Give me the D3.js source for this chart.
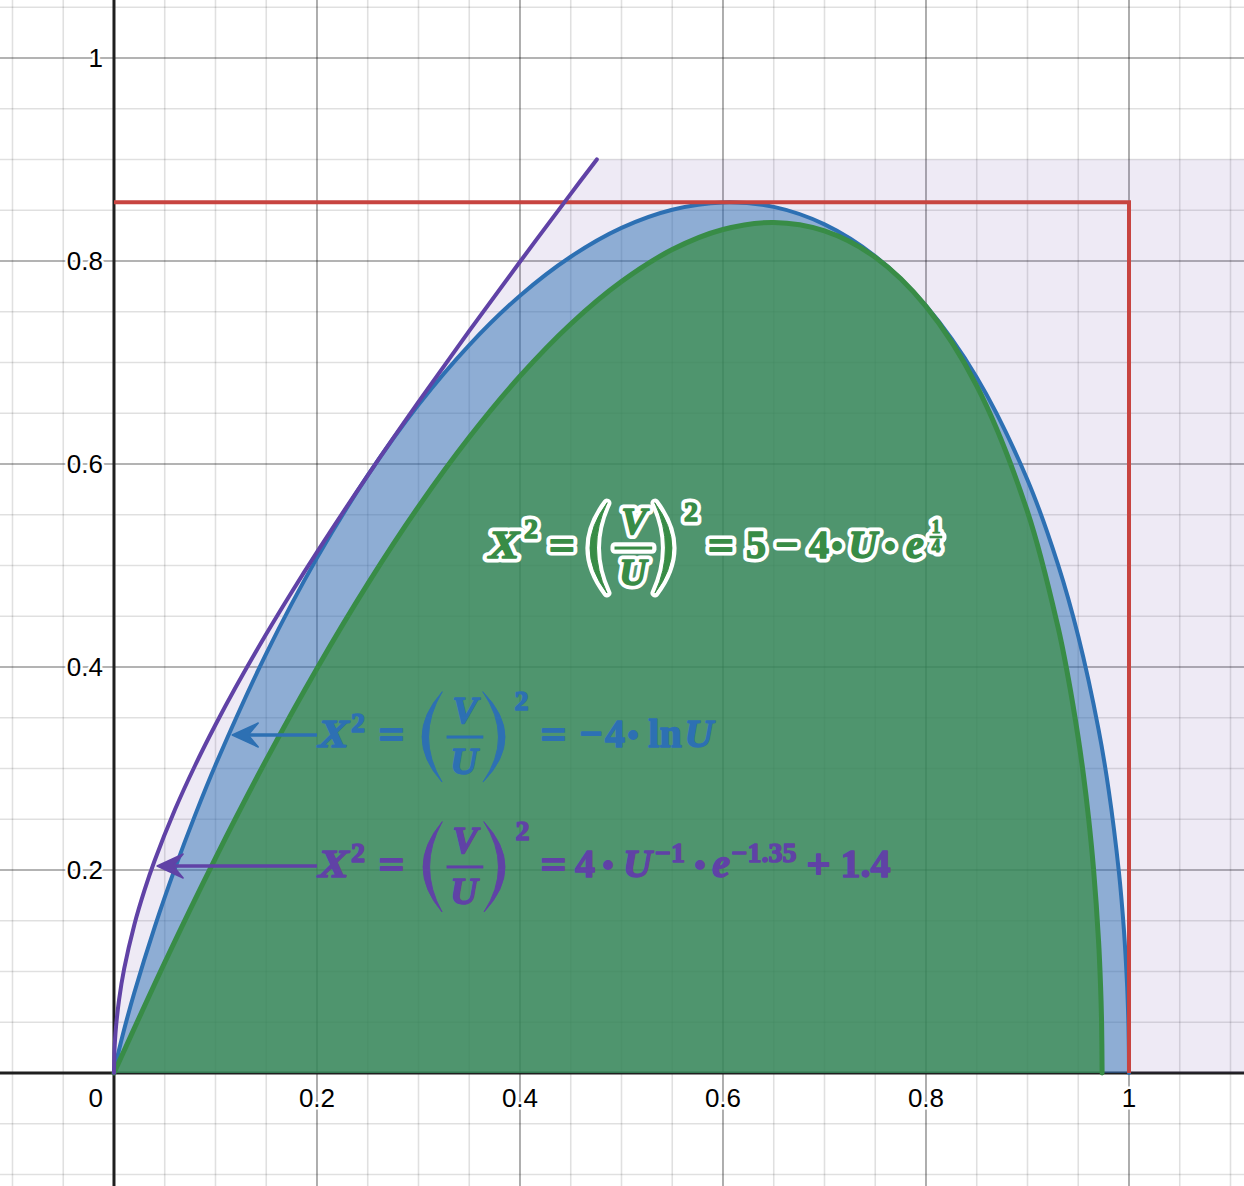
<!DOCTYPE html>
<html>
<head>
<meta charset="utf-8">
<script src="https://cdn.jsdelivr.net/npm/d3@7"></script>
<style>
  html, body { margin: 0; padding: 0; background: #ffffff; }
  svg { display: block; }
</style>
</head>
<body>
<svg id="chart" width="1244" height="1186"></svg>
<script>
// ---------------- DATA ----------------
const xTickValues = [0.2, 0.4, 0.6, 0.8, 1];
const xTickLabels = ["0.2", "0.4", "0.6", "0.8", "1"];
const yTickValues = [0.2, 0.4, 0.6, 0.8, 1];
const yTickLabels = ["0.2", "0.4", "0.6", "0.8", "1"];
const originLabel = "0";

// blue boundary  X^2 = (V/U)^2 = -4 ln U   (points [U, V])
const blueCurve = [
  [0, 0], [0.001, 0.0053], [0.002, 0.0100], [0.005, 0.0230], [0.01, 0.0429],
  [0.02, 0.0791], [0.04, 0.1435], [0.06, 0.2013], [0.08, 0.2543], [0.1, 0.3035],
  [0.15, 0.4132], [0.2, 0.5075], [0.25, 0.5887], [0.3, 0.6584], [0.35, 0.7172],
  [0.4, 0.7658], [0.45, 0.8042], [0.5, 0.8326], [0.55, 0.8505], [0.6, 0.8577],
  [0.65, 0.8533], [0.7, 0.8361], [0.75, 0.8046], [0.8, 0.7558], [0.85, 0.6853],
  [0.9, 0.5843], [0.93, 0.5011], [0.95, 0.4303], [0.97, 0.3386], [0.98, 0.2786],
  [0.99, 0.1985], [0.995, 0.1409], [0.998, 0.0893], [0.999, 0.0632],
  [0.9995, 0.0447], [0.9999, 0.0200], [1, 0]
];

// green boundary  X^2 = (V/U)^2 = 5 - 4 U e^(1/4)
const greenCurve = [
  [0, 0], [0.05, 0.1089], [0.1, 0.2118], [0.15, 0.3085], [0.2, 0.3986],
  [0.25, 0.4819], [0.3, 0.5580], [0.35, 0.6263], [0.4, 0.6865], [0.45, 0.7379],
  [0.5, 0.7797], [0.55, 0.8112], [0.6, 0.8310], [0.65, 0.8379], [0.7, 0.8296],
  [0.75, 0.8036], [0.8, 0.7552], [0.85, 0.6770], [0.9, 0.5530], [0.93, 0.4396],
  [0.94, 0.3899], [0.95, 0.3300], [0.955, 0.2944], [0.96, 0.2528], [0.965, 0.2016],
  [0.97, 0.1301], [0.972, 0.0853], [0.973, 0.0493], [0.9735, 0]
];

// purple boundary  X^2 = (V/U)^2 = 4 U^-1 e^-1.35 + 1.4   (drawn up to V = 0.9)
const purpleCurve = [
  [0, 0], [0.0005, 0.0228], [0.001, 0.0322], [0.002, 0.0456], [0.005, 0.0722],
  [0.01, 0.1025], [0.02, 0.1459], [0.03, 0.1799], [0.04, 0.2091], [0.06, 0.2593],
  [0.08, 0.3032], [0.1, 0.3431], [0.12, 0.3803], [0.15, 0.4325], [0.175, 0.4737],
  [0.2, 0.5132], [0.25, 0.5888], [0.3, 0.6611], [0.35, 0.7311], [0.4, 0.7992],
  [0.45, 0.8661], [0.4757, 0.9]
];
const purpleCap = 0.9;

// red bounding box  0 <= U <= 1, 0 <= V <= sqrt(2/e)
const redBox = [[0, 0.8578], [1, 0.8578], [1, 0]];

// ---------------- SETUP ----------------
const W = 1244, H = 1186;
const X_DOMAIN = [-0.1123, 1.1133];
const Y_DOMAIN = [-0.1113, 1.0571];
const x = d3.scaleLinear().domain(X_DOMAIN).range([0, W]);
const y = d3.scaleLinear().domain(Y_DOMAIN).range([H, 0]);

const COLORS = {
  red: "#c74440", blue: "#2d70b3", green: "#388c46", purple: "#6042a6", axis: "#1f1f1f"
};

const svg = d3.select("#chart");

// ---------------- GRID ----------------
const grid = svg.append("g");
const minorStep = 0.05;
const xGrid = d3.range(Math.ceil(X_DOMAIN[0] / minorStep), Math.floor(X_DOMAIN[1] / minorStep) + 1);
const yGrid = d3.range(Math.ceil(Y_DOMAIN[0] / minorStep), Math.floor(Y_DOMAIN[1] / minorStep) + 1);

grid.selectAll("line.vx").data(xGrid).join("line")
  .attr("x1", i => x(i * minorStep)).attr("x2", i => x(i * minorStep))
  .attr("y1", 0).attr("y2", H)
  .attr("stroke", i => (i % 4 === 0) ? "rgba(0,0,0,0.40)" : "rgba(0,0,0,0.12)")
  .attr("stroke-width", 1.6);
grid.selectAll("line.hy").data(yGrid).join("line")
  .attr("y1", i => y(i * minorStep)).attr("y2", i => y(i * minorStep))
  .attr("x1", 0).attr("x2", W)
  .attr("stroke", i => (i % 4 === 0) ? "rgba(0,0,0,0.40)" : "rgba(0,0,0,0.12)")
  .attr("stroke-width", 1.6);

// ---------------- AXES ----------------
svg.append("line").attr("x1", 0).attr("x2", W).attr("y1", y(0)).attr("y2", y(0))
  .attr("stroke", COLORS.axis).attr("stroke-width", 3);
svg.append("line").attr("y1", 0).attr("y2", H).attr("x1", x(0)).attr("x2", x(0))
  .attr("stroke", COLORS.axis).attr("stroke-width", 3);

// ---------------- FILLS ----------------
const smooth = d3.curveCatmullRom.alpha(0.5);

// lavender region right of the purple curve, 0 <= V <= 0.9
svg.append("path")
  .attr("d", d3.area().curve(smooth)
    .y(d => y(d[1])).x0(d => x(d[0])).x1(x(X_DOMAIN[1]))(purpleCurve))
  .attr("fill", COLORS.purple).attr("fill-opacity", 0.11);

svg.append("path")
  .attr("d", d3.area().curve(smooth).x(d => x(d[0])).y0(y(0)).y1(d => y(d[1]))(blueCurve))
  .attr("fill", COLORS.blue).attr("fill-opacity", 0.5);

svg.append("path")
  .attr("d", d3.area().curve(smooth).x(d => x(d[0])).y0(y(0)).y1(d => y(d[1]))(greenCurve))
  .attr("fill", COLORS.green).attr("fill-opacity", 0.72);

// ---------------- CURVES ----------------
const line = d3.line().curve(smooth).x(d => x(d[0])).y(d => y(d[1]));

svg.append("path").attr("d", line(blueCurve)).attr("fill", "none")
  .attr("stroke", COLORS.blue).attr("stroke-width", 4).attr("stroke-linecap", "round").attr("stroke-linejoin", "round");
svg.append("path").attr("d", line(greenCurve)).attr("fill", "none")
  .attr("stroke", COLORS.green).attr("stroke-width", 5).attr("stroke-linecap", "round").attr("stroke-linejoin", "round");
svg.append("path").attr("d", d3.line().x(d => x(d[0])).y(d => y(d[1]))(redBox)).attr("fill", "none")
  .attr("stroke", COLORS.red).attr("stroke-width", 4).attr("stroke-linejoin", "miter");
svg.append("path").attr("d", line(purpleCurve)).attr("fill", "none")
  .attr("stroke", COLORS.purple).attr("stroke-width", 4).attr("stroke-linecap", "round").attr("stroke-linejoin", "round");

// ---------------- TICK LABELS ----------------
const labels = svg.append("g")
  .attr("font-family", "'Liberation Sans', Arial, Helvetica, sans-serif")
  .attr("font-size", 26).attr("fill", "#000")
  .attr("stroke", "#fff").attr("stroke-width", 5).attr("stroke-linejoin", "round")
  .attr("paint-order", "stroke");

labels.selectAll("text.xl").data(xTickValues).join("text")
  .attr("x", d => x(d)).attr("y", y(0) + 34).attr("text-anchor", "middle")
  .text((d, i) => xTickLabels[i]);
labels.selectAll("text.yl").data(yTickValues).join("text")
  .attr("x", x(0) - 11).attr("y", d => y(d) + 9).attr("text-anchor", "end")
  .text((d, i) => yTickLabels[i]);
labels.append("text").attr("x", x(0) - 11).attr("y", y(0) + 34).attr("text-anchor", "end").text(originLabel);

// ---------------- ARROWS ----------------
function arrow(from, to, color) {
  const g = svg.append("g");
  const x1 = x(from[0]), y1 = y(from[1]), x2 = x(to[0]), y2 = y(to[1]);
  g.append("line").attr("x1", x1).attr("y1", y1).attr("x2", x2 + 12).attr("y2", y2)
    .attr("stroke", color).attr("stroke-width", 3.5);
  g.append("path")
    .attr("d", `M${x2},${y2} L${x2 + 26},${y2 - 12} L${x2 + 16},${y2} L${x2 + 26},${y2 + 12} Z`)
    .attr("fill", color).attr("stroke", color).attr("stroke-width", 1.5).attr("stroke-linejoin", "round");
}
arrow([0.2, 0.333], [0.1165, 0.333], COLORS.blue);
arrow([0.2, 0.204], [0.0425, 0.204], COLORS.purple);

// ---------------- FORMULAS ----------------
function formula(anchor, color, halo, parts) {
  const root = svg.append("g").attr("transform", `translate(${x(anchor[0])},${y(anchor[1])})`);
  const layers = halo ? [root.append("g"), root.append("g")] : [null, root.append("g")];

  function draw(g, p, isHalo) {
    let el;
    if (p.paren) {
      const s = p.paren === "(" ? 1 : -1;
      const a = p.paren === "(" ? p.x0 : p.x1;   // bulge side
      const b = p.paren === "(" ? p.x1 : p.x0;   // tips side
      const cOut = 2 * a - b;
      const cIn = 2 * (a + s * 6.5) - b;
      el = g.append("path").attr("d", `M${b},${-p.h} Q${cOut},0 ${b},${p.h} Q${cIn},0 ${b},${-p.h} Z`);
    } else if (p.bar) {
      el = g.append("rect").attr("x", p.bar[0]).attr("y", p.y - p.t / 2)
        .attr("width", p.bar[1] - p.bar[0]).attr("height", p.t);
    } else {
      el = g.append("text").attr("x", p.cx).attr("y", p.base).attr("text-anchor", "middle")
        .attr("font-family", "'Liberation Serif', 'Times New Roman', serif")
        .attr("font-weight", "bold").attr("font-style", p.it ? "italic" : "normal")
        .attr("font-size", p.fs).text(p.s);
      if (p.sx) el.attr("transform", `translate(${p.cx},0) scale(${p.sx},1) translate(${-p.cx},0)`);
    }
    el.attr("stroke-linejoin", "round").attr("stroke-linecap", "round");
    if (isHalo) el.attr("fill", "#fff").attr("stroke", "#fff").attr("stroke-width", 9);
    else el.attr("fill", color).attr("stroke", color).attr("stroke-width", p.w != null ? p.w : 1.5);
  }
  parts.forEach(p => {
    if (layers[0]) draw(layers[0], p, true);
    draw(layers[1], p, false);
  });
}

const eqSign = (cx) => ({ s: "=", cx, base: 11, fs: 42, sx: 1.08, w: 1.8 });
const dot = (cx) => ({ s: "\u00B7", cx, base: 14, fs: 48, w: 2 });
const minus = (cx) => ({ s: "\u2212", cx, base: 10, fs: 40, w: 2 });

// common left part: X^2 = (V/U)^2
function leftPart(o) {
  return [
    { s: "X", it: true, cx: o.X, base: 10, fs: 41, sx: 1.12 },
    { s: "2", cx: o.s1, base: o.s1b, fs: 28 },
    eqSign(o.eq),
    { paren: "(", x0: o.p1[0], x1: o.p1[1], h: 45, w: 1 },
    { s: "V", it: true, cx: o.fr, base: -14, fs: 38 },
    { bar: o.bar, y: 0, t: 2.5, w: 0.5 },
    { s: "U", it: true, cx: o.fr - 1, base: 37, fs: 38 },
    { paren: ")", x0: o.p2[0], x1: o.p2[1], h: 45, w: 1 },
    { s: "2", cx: o.s2, base: -27, fs: 28 }
  ];
}

// blue: X^2 = (V/U)^2 = -4 · ln U
formula([0.203, 0.331], COLORS.blue, false, leftPart({
  X: 13.5, s1: 38, s1b: -5, eq: 71.5, p1: [102, 122], fr: 145, bar: [127, 163], p2: [163, 185], s2: 201.5
}).concat([
  eqSign(233.5),
  minus(271),
  { s: "4", cx: 295, base: 10, fs: 40 },
  dot(313),
  { s: "ln", cx: 345, base: 10, fs: 40 },
  { s: "U", it: true, cx: 379, base: 10, fs: 40 }
]));

// purple: X^2 = (V/U)^2 = 4 · U^-1 · e^-1.35 + 1.4
formula([0.203, 0.203], COLORS.purple, false, leftPart({
  X: 13.5, s1: 38, s1b: -5, eq: 71.5, p1: [103, 122], fr: 145, bar: [127, 163], p2: [164, 185], s2: 202.5
}).concat([
  eqSign(233.5),
  { s: "4", cx: 265, base: 10, fs: 40 },
  dot(288),
  { s: "U", it: true, cx: 317.5, base: 10, fs: 40 },
  { s: "\u22121", cx: 350, base: -5, fs: 28 },
  dot(380),
  { s: "e", it: true, cx: 401, base: 10, fs: 40 },
  { s: "\u22121.35", cx: 444, base: -5, fs: 28 },
  { s: "+", cx: 498.5, base: 11, fs: 42, w: 2 },
  { s: "1.4", cx: 545.5, base: 10, fs: 40 }
]));

// green: X^2 = (V/U)^2 = 5 - 4 · U · e^(1/4)  (white halo)
formula([0.3655, 0.5172], COLORS.green, true, leftPart({
  X: 19, s1: 46, s1b: -10, eq: 77, p1: [105, 122], fr: 149, bar: [130, 167], p2: [170, 187], s2: 206
}).concat([
  eqSign(236),
  { s: "5", cx: 271, base: 10, fs: 40 },
  minus(302),
  { s: "4", cx: 334, base: 10, fs: 40 },
  dot(352),
  { s: "U", it: true, cx: 378, base: 10, fs: 40 },
  dot(405),
  { s: "e", it: true, cx: 430, base: 10, fs: 40 },
  { s: "1", cx: 451, base: -15, fs: 18, w: 1 },
  { bar: [445, 457], y: -11, t: 2, w: 0.5 },
  { s: "4", cx: 451, base: 4, fs: 18, w: 1 }
]));
</script>
</body>
</html>
